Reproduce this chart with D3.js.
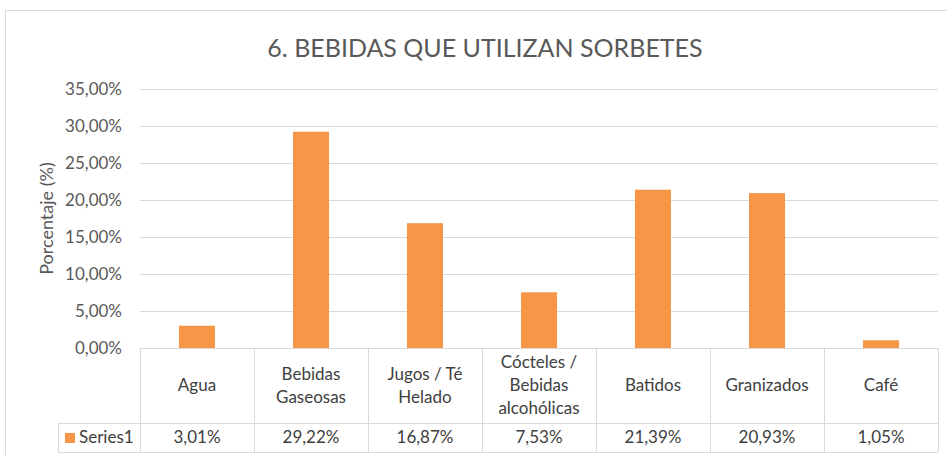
<!DOCTYPE html>
<html>
<head>
<meta charset="utf-8">
<script src="https://cdn.jsdelivr.net/npm/d3@7"></script>
<style>
  body { margin: 0; background: #fff; }
  svg { display: block; font-family: Lato, 'Open Sans', sans-serif; }
</style>
</head>
<body>
<div id="chart"></div>
<script>
// datos
var categorias = ['Agua', 'Bebidas Gaseosas', 'Jugos / Té Helado', 'Cócteles / Bebidas alcohólicas', 'Batidos', 'Granizados', 'Café']
// etiquetas en varias líneas como en la tabla
var etiquetas = [['Agua'], ['Bebidas', 'Gaseosas'], ['Jugos / Té', 'Helado'], ['Cócteles /', 'Bebidas', 'alcohólicas'], ['Batidos'], ['Granizados'], ['Café']]
var valores = [3.01, 29.22, 16.87, 7.53, 21.39, 20.93, 1.05]
var ticks = [0, 5, 10, 15, 20, 25, 30, 35]
var serie = 'Series1'
var titulo = '6. BEBIDAS QUE UTILIZAN SORBETES'
var ejeY = 'Porcentaje (%)'

var width = 947,
    height = 455,
    plotLeft = 140,
    plotRight = 938,
    plotTop = 89,
    plotBottom = 348,
    rowH1 = 75,
    rowH2 = 29,
    legendLeft = 58,
    orange = '#F79646',
    grid = '#d9d9d9',
    textColor = '#595959',
    tableText = '#404040'

var fmt = function (v) { return v.toFixed(2).replace('.', ',') + '%' }

var svg = d3.select('#chart').append('svg')
    .attr('width', width)
    .attr('height', height)

// borde del gráfico
svg.append('rect')
    .attr('x', 5.5).attr('y', 10.5)
    .attr('width', 1000).attr('height', 500)
    .attr('fill', 'none')
    .attr('stroke', grid)

svg.append('text')
    .attr('x', 485).attr('y', 57)
    .attr('text-anchor', 'middle')
    .attr('fill', textColor)
    .style('font-size', '25px')
    .text(titulo)

var x = d3.scaleBand().domain(categorias).range([plotLeft, plotRight]).paddingInner(0).paddingOuter(0)
var y = d3.scaleLinear().domain([0, 35]).range([plotBottom, plotTop])

// líneas de cuadrícula y etiquetas del eje
var yAxis = svg.append('g')
    .attr('transform', 'translate(' + plotLeft + ',0)')
    .call(d3.axisLeft(y).tickValues(ticks).tickSize(-(plotRight - plotLeft)).tickFormat(fmt))
yAxis.select('.domain').remove()
yAxis.selectAll('.tick line').attr('stroke', grid)
yAxis.selectAll('.tick text')
    .attr('x', -18)
    .attr('fill', textColor)
    .style('font-size', '17px')
    .style('font-family', 'Lato, sans-serif')

svg.append('text')
    .attr('transform', 'translate(53,' + (plotTop + plotBottom) / 2 + ') rotate(-90)')
    .attr('text-anchor', 'middle')
    .attr('fill', textColor)
    .style('font-size', '18px')
    .text(ejeY)

// barras
var barW = 36
svg.selectAll('.bar')
    .data(valores)
    .enter()
    .append('rect')
    .attr('class', 'bar')
    .attr('x', function (d, i) { return x(categorias[i]) + x.bandwidth() / 2 - barW / 2 })
    .attr('y', function (d) { return y(d) })
    .attr('width', barW)
    .attr('height', function (d) { return plotBottom - y(d) })
    .attr('fill', orange)

// tabla de datos
var t = svg.append('g').attr('stroke', grid).attr('fill', 'none')
var tableBottom = plotBottom + rowH1 + rowH2
// horizontales
t.append('line').attr('x1', plotLeft).attr('x2', plotRight).attr('y1', plotBottom + 0.5).attr('y2', plotBottom + 0.5)
t.append('line').attr('x1', legendLeft).attr('x2', plotRight).attr('y1', plotBottom + rowH1 + 0.5).attr('y2', plotBottom + rowH1 + 0.5)
t.append('line').attr('x1', legendLeft).attr('x2', plotRight).attr('y1', tableBottom + 0.5).attr('y2', tableBottom + 0.5)
// verticales
t.append('line').attr('x1', legendLeft + 0.5).attr('x2', legendLeft + 0.5).attr('y1', plotBottom + rowH1).attr('y2', tableBottom)
categorias.forEach(function (c) {
    t.append('line')
        .attr('x1', x(c) + 0.5).attr('x2', x(c) + 0.5)
        .attr('y1', plotBottom).attr('y2', tableBottom)
})
t.append('line').attr('x1', plotRight + 0.5).attr('x2', plotRight + 0.5).attr('y1', plotBottom).attr('y2', tableBottom)

// textos de categorías
var lineH = 23
etiquetas.forEach(function (lines, i) {
    var cx = x(categorias[i]) + x.bandwidth() / 2
    var cy = plotBottom + rowH1 / 2 - (lines.length - 1) * lineH / 2
    var tx = svg.append('text')
        .attr('text-anchor', 'middle')
        .attr('fill', tableText)
        .style('font-size', '17px')
    lines.forEach(function (l, j) {
        tx.append('tspan')
            .attr('x', cx)
            .attr('y', cy + j * lineH)
            .attr('dy', '0.35em')
            .text(l)
    })
})

// valores
svg.selectAll('.val')
    .data(valores)
    .enter()
    .append('text')
    .attr('class', 'val')
    .attr('x', function (d, i) { return x(categorias[i]) + x.bandwidth() / 2 })
    .attr('y', plotBottom + rowH1 + rowH2 / 2)
    .attr('dy', '0.35em')
    .attr('text-anchor', 'middle')
    .attr('fill', tableText)
    .style('font-size', '17px')
    .text(fmt)

// leyenda
svg.append('rect')
    .attr('x', 65).attr('y', plotBottom + rowH1 + 10)
    .attr('width', 10).attr('height', 10)
    .attr('fill', orange)
svg.append('text')
    .attr('x', 79)
    .attr('y', plotBottom + rowH1 + rowH2 / 2)
    .attr('dy', '0.35em')
    .attr('fill', tableText)
    .style('font-size', '17px')
    .text(serie)
</script>
</body>
</html>
